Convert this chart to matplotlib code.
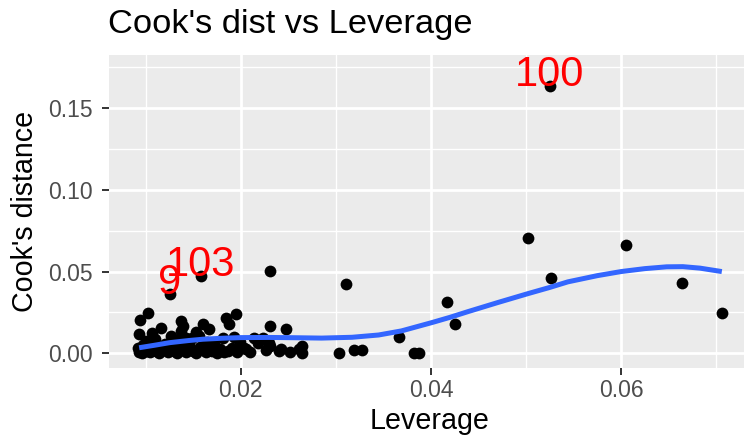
import matplotlib
matplotlib.use('Agg')
import matplotlib.pyplot as plt
import numpy as np

plt.rcParams['font.family'] = ['Liberation Sans', 'DejaVu Sans']

# points: leverage vs Cook's distance
leverage = [
    # dense cluster, upper part
    0.0102, 0.0094, 0.0093, 0.0107, 0.0116, 0.0137, 0.0137, 0.0126, 0.0149, 0.0160,
    0.0167, 0.0184, 0.0195, 0.0188, 0.0181, 0.0172, 0.0231, 0.0247, 0.0214, 0.0223,
    0.0231, 0.0205, 0.0242, 0.0261, 0.0186, 0.0175, 0.0264, 0.0264, 0.0230, 0.0240,
    0.0203, 0.0142, 0.0139,
    # cluster, middle band
    0.0100, 0.0110, 0.0120, 0.0132, 0.0145, 0.0156, 0.0164, 0.0193, 0.0199, 0.0218,
    0.0097, 0.0153,
    # cluster, bottom row
    0.0092, 0.0093, 0.0096, 0.0099, 0.0101, 0.0104, 0.0108, 0.0111, 0.0114, 0.0117,
    0.0120, 0.0123, 0.0127, 0.0130, 0.0133, 0.0136, 0.0139, 0.0142, 0.0146, 0.0150,
    0.0153, 0.0157, 0.0160, 0.0163, 0.0166, 0.0170, 0.0178, 0.0182, 0.0191, 0.0196,
    0.0200, 0.0210, 0.0226, 0.0252,
    # isolated ones
    0.0125, 0.0158, 0.0231,
    0.0303, 0.0311, 0.0319, 0.0327, 0.0366, 0.0382, 0.0387, 0.0417, 0.0425, 0.0502,
    0.0525, 0.0526, 0.0605, 0.0664, 0.0706,
]
cooks_d = [
    0.0249, 0.0204, 0.0116, 0.0126, 0.0157, 0.0198, 0.0137, 0.0106, 0.0096, 0.0178,
    0.0147, 0.0218, 0.0239, 0.0178, 0.0096, 0.0055, 0.0167, 0.0147, 0.0096, 0.0096,
    0.0045, 0.0024, 0.0024, 0.0024, 0.0014, 0.0004, 0.0045, 0.0004, 0.0065, 0.0014,
    0.0034, 0.0096, 0.0167,
    0.0075, 0.0088, 0.0058, 0.0082, 0.0062, 0.0104, 0.0072, 0.0098, 0.0070, 0.0060,
    0.0050, 0.0128,
    0.0034, 0.0010, 0.0002, 0.0040, 0.0015, 0.0005, 0.0030, 0.0012, 0.0001, 0.0038,
    0.0020, 0.0006, 0.0028, 0.0011, 0.0002, 0.0045, 0.0022, 0.0008, 0.0033, 0.0015,
    0.0003, 0.0041, 0.0018, 0.0007, 0.0030, 0.0012, 0.0024, 0.0008, 0.0031, 0.0009,
    0.0041, 0.0007, 0.0018, 0.0008,
    0.0365, 0.0474, 0.0504,
    0.0004, 0.0423, 0.0020, 0.0020, 0.0100, 0.0000, 0.0000, 0.0312, 0.0178, 0.0705,
    0.1638, 0.0460, 0.0664, 0.0433, 0.0249,
]

# labelled observations
label_text = ['100', '103', '9']
label_lev = [0.0525, 0.0158, 0.0125]
label_cook = [0.1638, 0.0474, 0.0365]

# smooth curve
smooth_lev = [0.0093, 0.0110, 0.0125, 0.0145, 0.0160, 0.0180, 0.0200, 0.0230, 0.0260,
              0.0285, 0.0317, 0.0345, 0.0369, 0.0401, 0.0420, 0.0439, 0.0470, 0.0502,
              0.0525, 0.0544, 0.0575, 0.0600, 0.0625, 0.0648, 0.0665, 0.0683, 0.0706]
smooth_cook = [0.0034, 0.0050, 0.0065, 0.0078, 0.0086, 0.0092, 0.0096, 0.0097, 0.0095,
               0.0093, 0.0098, 0.0112, 0.0137, 0.0188, 0.0220, 0.0255, 0.0310, 0.0365,
               0.0403, 0.0437, 0.0475, 0.0500, 0.0518, 0.0529, 0.0530, 0.0521, 0.0500]

x_major = [0.02, 0.04, 0.06]
x_labels = ['0.02', '0.04', '0.06']
x_minor = [0.01, 0.03, 0.05, 0.07]
y_major = [0.00, 0.05, 0.10, 0.15]
y_labels = ['0.00', '0.05', '0.10', '0.15']
y_minor = [0.025, 0.075, 0.125, 0.175]

fig = plt.figure(figsize=(7.44, 4.42), dpi=100)
ax = fig.add_axes([109 / 744, 74.5 / 442, 642 / 744, 312.5 / 442])
ax.set_facecolor('#EBEBEB')
for s in ax.spines.values():
    s.set_visible(False)

ax.scatter(leverage, cooks_d, s=72, color='black', linewidths=0, zorder=3)
ax.plot(smooth_lev, smooth_cook, color='#3366FF', lw=3.6, zorder=4,
        solid_capstyle='butt', solid_joinstyle='round')
for t, x, y in zip(label_text, label_lev, label_cook):
    ax.text(x, y, t, color='red', fontsize=30, ha='center', va='baseline',
            zorder=5, clip_on=True)

# ggplot-like 5% expansion
lev = np.array(leverage)
xr = lev.max() - lev.min()
ax.set_xlim(lev.min() - 0.05 * xr, lev.max() + 0.05 * xr)
ytop = max(np.max(cooks_d), np.max(np.array(label_cook) + 0.01))
yr = ytop - np.min(cooks_d)
ax.set_ylim(np.min(cooks_d) - 0.05 * yr, ytop + 0.05 * yr)

ax.set_xticks(x_major)
ax.set_xticklabels(x_labels)
ax.set_xticks(x_minor, minor=True)
ax.set_yticks(y_major)
ax.set_yticklabels(y_labels)
ax.set_yticks(y_minor, minor=True)
ax.grid(which='major', color='white', lw=2.0)
ax.grid(which='minor', color='white', lw=1.0)
ax.set_axisbelow(True)
ax.tick_params(which='major', length=5, width=1.4, color='#333333',
               labelcolor='#4D4D4D', labelsize=16.5)
ax.tick_params(axis='x', which='major', pad=3)
ax.tick_params(axis='y', which='major', pad=6.5)
ax.tick_params(which='minor', length=0)

ax.set_xlabel('Leverage', fontsize=20.6, labelpad=3.6)
ax.set_ylabel("Cook's distance", fontsize=20.6, labelpad=6.5)
fig.text(108 / 744, (442 - 33) / 442, "Cook's dist vs Leverage", fontsize=24.75,
         ha='left', va='baseline')

fig.savefig('out.png', dpi=100)
